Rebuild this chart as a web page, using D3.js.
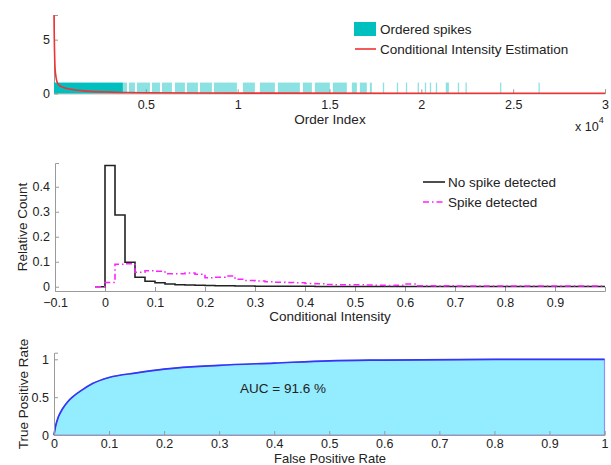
<!DOCTYPE html>
<html>
<head>
<meta charset="utf-8">
<script src="https://cdn.jsdelivr.net/npm/d3@7"></script>
<style>
  body { margin: 0; background: #fff; }
  text { font-family: "Liberation Sans", Arial, sans-serif; fill: #222; }
  .axis path, .axis line { stroke: #9a9a9a; }
  .axis text { font-size: 12.5px; fill: #222; }
</style>
</head>
<body>
<div id="chart"></div>
<script>
// ---- data ----
// top: ordered spikes, as [start, end] order index spans
const denseSpikes = [[0, 3750]]
const spikeSpans = [
  [3755, 3973], [4082, 4408], [4517, 5224], [5333, 5769], [5878, 6422],
  [6585, 7129], [7238, 7837], [7946, 8599], [8707, 9959], [10285, 10938],
  [11210, 12027], [12190, 13388], [13551, 14041], [14204, 15020], [15183, 15945],
  [16217, 16490], [16653, 17034], [17197, 17306], [17905, 17960], [18667, 18720],
  [19157, 19200], [19800, 19870], [20190, 20220], [20463, 20490], [20789, 20820],
  [21330, 21500], [21986, 22020], [22405, 22440], [24286, 24320], [26378, 26410]
]
// conditional intensity estimation
const ciIndex = [0, 15, 30, 50, 80, 120, 160, 250, 400, 600, 1000, 1500, 2000, 3000, 4000, 5000, 8000, 12000, 20000, 30000]
const ciValue = [7.3, 5.2, 3.8, 2.6, 1.9, 1.4, 1.1, 0.8, 0.62, 0.5, 0.35, 0.25, 0.18, 0.11, 0.07, 0.05, 0.025, 0.012, 0.006, 0.004]
const topXTicks = [5000, 10000, 15000, 20000, 25000, 30000]
const topYTicks = [0, 5]

// middle: histogram, bins of 0.02 starting at -0.02
const binStart = -0.02, binWidth = 0.02
const noSpike = [0, 0.485, 0.287, 0.098, 0.038, 0.022, 0.016, 0.011, 0.008, 0.007,
  0.006, 0.005, 0.004, 0.004, 0.003, 0.003, 0.002, 0.002, 0.002, 0.002,
  0.002, 0.002, 0.001, 0.001, 0.001, 0.001, 0.001, 0.001, 0.001, 0.001,
  0.001, 0.001, 0.001, 0.001, 0.001, 0.001, 0.001, 0.001, 0.001, 0.001,
  0.001, 0.001, 0.001, 0.001, 0.001, 0.001, 0.001, 0.001, 0.001, 0.001, 0.001]
const spikeDet = [0, 0.017, 0.09, 0.092, 0.058, 0.064, 0.062, 0.052, 0.052, 0.055,
  0.05, 0.036, 0.038, 0.043, 0.03, 0.025, 0.023, 0.02, 0.018, 0.017,
  0.016, 0.013, 0.012, 0.009, 0.008, 0.008, 0.008, 0.007, 0.006, 0.005,
  0.006, 0.011, 0.004, 0.004, 0.003, 0.004, 0.003, 0.003, 0.003, 0.003,
  0.003, 0.003, 0.003, 0.003, 0.003, 0.003, 0.003, 0.003, 0.003, 0.003, 0.003]
const midXTicks = [-0.1, 0, 0.1, 0.2, 0.3, 0.4, 0.5, 0.6, 0.7, 0.8, 0.9]
const midYTicks = [0, 0.1, 0.2, 0.3, 0.4]

// bottom: ROC curve
const fpr = [0, 0.003, 0.008, 0.015, 0.025, 0.035, 0.05, 0.07, 0.1, 0.15, 0.2, 0.3, 0.4, 0.5, 0.6, 0.8, 1]
const tpr = [0, 0.12, 0.24, 0.34, 0.44, 0.51, 0.59, 0.68, 0.76, 0.82, 0.87, 0.92, 0.95, 0.98, 0.99, 1, 1]
const rocTicks = [0, 0.1, 0.2, 0.3, 0.4, 0.5, 0.6, 0.7, 0.8, 0.9, 1]
const aucLabel = 'AUC = 91.6 %'

// ---- canvas ----
const width = 611,
  height = 465

let svg = d3.select('#chart')
  .append('svg')
  .attr('width', width)
  .attr('height', height)

// ---------- top panel ----------
let xTop = d3.scaleLinear().domain([0, 30000]).range([54, 605])
let yTop = d3.scaleLinear().domain([0, 7.3]).range([93.3, 15])

svg.append('g').attr('class', 'axis')
  .attr('transform', 'translate(0,93.3)')
  .call(d3.axisBottom(xTop).tickValues(topXTicks).tickSize(-4).tickPadding(7)
    .tickFormat(d => d3.format('~g')(d / 10000)))
svg.append('g').attr('class', 'axis')
  .attr('transform', 'translate(54,0)')
  .call(d3.axisLeft(yTop).tickValues(topYTicks).tickSize(-4).tickPadding(4))

let spikeRect = (sel, op) => sel
  .attr('x', d => xTop(d[0]))
  .attr('width', d => Math.max(xTop(d[1]) - xTop(d[0]), 1.3))
  .attr('y', yTop(1))
  .attr('height', yTop(0) - yTop(1))
  .attr('fill', '#00bfbf')
  .attr('fill-opacity', op)

svg.append('g').selectAll('rect').data(denseSpikes).enter().append('rect')
  .call(spikeRect, 1)
svg.append('g').selectAll('rect').data(spikeSpans).enter().append('rect')
  .call(spikeRect, 0.45)

let ciLine = d3.line()
  .x((d, i) => xTop(ciIndex[i]))
  .y(d => yTop(d))
  .curve(d3.curveMonotoneX)
svg.append('path')
  .datum(ciValue)
  .attr('d', ciLine)
  .attr('fill', 'none')
  .attr('stroke', '#f03232')
  .attr('stroke-width', 1.6)

svg.append('text').attr('x', 330).attr('y', 124)
  .attr('text-anchor', 'middle').style('font-size', '13.5px').text('Order Index')
let expo = svg.append('text').attr('x', 575).attr('y', 131).style('font-size', '12.5px')
expo.append('tspan').text('x 10')
expo.append('tspan').attr('dy', -8).style('font-size', '9px').text('4')

// top legend
svg.append('rect').attr('x', 354).attr('y', 22).attr('width', 22).attr('height', 14)
  .attr('fill', '#00bfbf')
svg.append('text').attr('x', 380).attr('y', 34).style('font-size', '13.5px').text('Ordered spikes')
svg.append('line').attr('x1', 355).attr('x2', 376).attr('y1', 49).attr('y2', 49)
  .attr('stroke', '#f03232').attr('stroke-width', 1.6)
svg.append('text').attr('x', 380).attr('y', 54).style('font-size', '13.5px')
  .text('Conditional Intensity Estimation')

// ---------- middle panel ----------
let xMid = d3.scaleLinear().domain([-0.1, 1.0]).range([55, 605])
let yMid = d3.scaleLinear().domain([-0.017, 0.495]).range([291, 163])

svg.append('g').attr('class', 'axis')
  .attr('transform', 'translate(0,291)')
  .call(d3.axisBottom(xMid).tickValues(midXTicks).tickSize(-4).tickPadding(7)
    .tickFormat(d => d3.format('~g')(d).replace('-', '\u2212')))
svg.append('g').attr('class', 'axis')
  .attr('transform', 'translate(55,0)')
  .call(d3.axisLeft(yMid).tickValues(midYTicks).tickSize(-4).tickPadding(5)
    .tickFormat(d3.format('~g')))

let stairs = vals => vals.map((v, i) => [binStart + i * binWidth, v])
  .concat([[1.0, vals[vals.length - 1]]])
let stepLine = d3.line()
  .x(d => xMid(d[0]))
  .y(d => yMid(d[1]))
  .curve(d3.curveStepAfter)

svg.append('path')
  .datum(stairs(noSpike))
  .attr('d', stepLine)
  .attr('fill', 'none')
  .attr('stroke', '#222')
  .attr('stroke-width', 1.6)
svg.append('path')
  .datum(stairs(spikeDet))
  .attr('d', stepLine)
  .attr('fill', 'none')
  .attr('stroke', '#ff22ff')
  .attr('stroke-width', 1.6)
  .attr('stroke-dasharray', '6,3,1.5,3')

svg.append('text').attr('x', 330).attr('y', 321)
  .attr('text-anchor', 'middle').style('font-size', '13.5px').text('Conditional Intensity')
svg.append('text').attr('transform', 'translate(22,227) rotate(-90)')
  .attr('dy', '0.35em').attr('text-anchor', 'middle').style('font-size', '13.5px')
  .text('Relative Count')

// middle legend
svg.append('line').attr('x1', 423).attr('x2', 445).attr('y1', 182).attr('y2', 182)
  .attr('stroke', '#222').attr('stroke-width', 1.6)
svg.append('text').attr('x', 448).attr('y', 187).style('font-size', '13.5px').text('No spike detected')
svg.append('line').attr('x1', 423).attr('x2', 445).attr('y1', 202).attr('y2', 202)
  .attr('stroke', '#ff22ff').attr('stroke-width', 1.6).attr('stroke-dasharray', '6,3,1.5,3')
svg.append('text').attr('x', 448).attr('y', 207).style('font-size', '13.5px').text('Spike detected')

// ---------- bottom panel ----------
let xRoc = d3.scaleLinear().domain([0, 1]).range([54, 604.5])
let yRoc = d3.scaleLinear().domain([0, 1.087]).range([435, 352.7])

let rocArea = d3.area()
  .x((d, i) => xRoc(fpr[i]))
  .y0(yRoc(0))
  .y1(d => yRoc(d))
  .curve(d3.curveMonotoneX)
svg.append('path')
  .datum(tpr)
  .attr('d', rocArea)
  .attr('fill', '#94ecff')
svg.append('path')
  .datum(tpr)
  .attr('d', rocArea)
  .attr('fill', 'none')
  .attr('stroke', '#8f8fff')
  .attr('stroke-width', 1.2)
svg.append('path')
  .datum(tpr)
  .attr('d', d3.line().x((d, i) => xRoc(fpr[i])).y(d => yRoc(d)).curve(d3.curveMonotoneX))
  .attr('fill', 'none')
  .attr('stroke', '#3535f5')
  .attr('stroke-width', 1.7)

svg.append('g').attr('class', 'axis')
  .attr('transform', 'translate(0,435)')
  .call(d3.axisBottom(xRoc).tickValues(rocTicks).tickSize(-4).tickPadding(4)
    .tickFormat(d3.format('~g')))
svg.append('g').attr('class', 'axis')
  .attr('transform', 'translate(54,0)')
  .call(d3.axisLeft(yRoc).tickValues([0, 0.5, 1]).tickSize(-4).tickPadding(5)
    .tickFormat(d3.format('~g')))

svg.append('text').attr('x', 240).attr('y', 393).style('font-size', '13.5px').text(aucLabel)
svg.append('text').attr('x', 330).attr('y', 463)
  .attr('text-anchor', 'middle').style('font-size', '13px').text('False Positive Rate')
svg.append('text').attr('transform', 'translate(23,394) rotate(-90)')
  .attr('dy', '0.35em').attr('text-anchor', 'middle').style('font-size', '13.5px')
  .text('True Positive Rate')
</script>
</body>
</html>
